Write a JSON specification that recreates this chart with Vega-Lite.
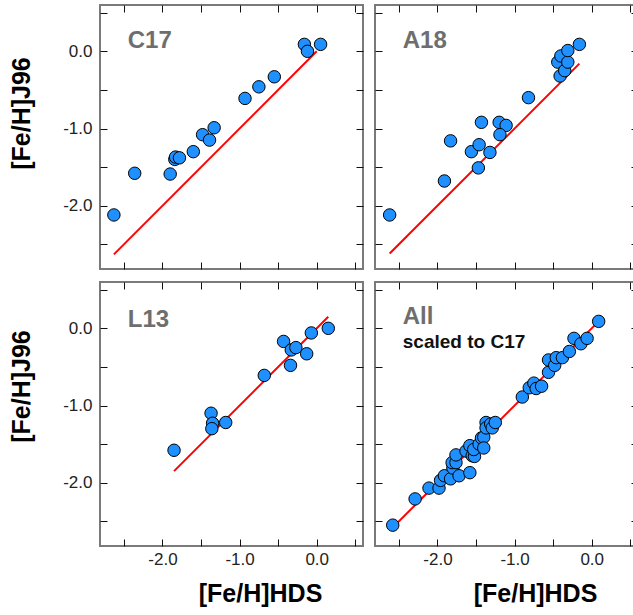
{
  "$schema": "https://vega.github.io/schema/vega-lite/v6.json",
  "background": "white",
  "padding": {"left": 8, "top": 2, "right": 0, "bottom": 0},
  "config": {
    "font": "Liberation Sans",
    "view": {"stroke": "#7a7a7a", "strokeWidth": 2},
    "axis": {"domain": false, "grid": false, "tickColor": "#111111", "tickWidth": 1, "tickSize": -7, "labelFontSize": 17, "labelColor": "#222222", "labelFlush": false, "labelOverlap": false, "titleFontSize": 25, "titleFontWeight": "bold", "titleColor": "#000000"}
  },
  "datasets": {
    "pts": [
      {"panel": "C17", "x": -2.63, "y": -2.12}, {"panel": "C17", "x": -2.36, "y": -1.58}, {"panel": "C17", "x": -1.90, "y": -1.59},
      {"panel": "C17", "x": -1.84, "y": -1.40}, {"panel": "C17", "x": -1.83, "y": -1.37}, {"panel": "C17", "x": -1.78, "y": -1.38},
      {"panel": "C17", "x": -1.60, "y": -1.30}, {"panel": "C17", "x": -1.48, "y": -1.08}, {"panel": "C17", "x": -1.39, "y": -1.15},
      {"panel": "C17", "x": -1.33, "y": -0.99}, {"panel": "C17", "x": -0.93, "y": -0.61}, {"panel": "C17", "x": -0.75, "y": -0.46},
      {"panel": "C17", "x": -0.55, "y": -0.33}, {"panel": "C17", "x": -0.16, "y": 0.09}, {"panel": "C17", "x": -0.12, "y": 0.0},
      {"panel": "C17", "x": 0.05, "y": 0.09},
      {"panel": "A18", "x": -2.62, "y": -2.12}, {"panel": "A18", "x": -1.91, "y": -1.68}, {"panel": "A18", "x": -1.83, "y": -1.16},
      {"panel": "A18", "x": -1.56, "y": -1.30}, {"panel": "A18", "x": -1.46, "y": -1.21}, {"panel": "A18", "x": -1.47, "y": -1.51},
      {"panel": "A18", "x": -1.43, "y": -0.92}, {"panel": "A18", "x": -1.32, "y": -1.31}, {"panel": "A18", "x": -1.20, "y": -0.92},
      {"panel": "A18", "x": -1.11, "y": -0.96}, {"panel": "A18", "x": -1.19, "y": -1.08}, {"panel": "A18", "x": -0.82, "y": -0.60},
      {"panel": "A18", "x": -0.41, "y": -0.32}, {"panel": "A18", "x": -0.44, "y": -0.14}, {"panel": "A18", "x": -0.40, "y": -0.06},
      {"panel": "A18", "x": -0.35, "y": -0.25}, {"panel": "A18", "x": -0.31, "y": -0.14}, {"panel": "A18", "x": -0.31, "y": 0.01},
      {"panel": "A18", "x": -0.16, "y": 0.09},
      {"panel": "L13", "x": -1.85, "y": -1.58}, {"panel": "L13", "x": -1.37, "y": -1.10}, {"panel": "L13", "x": -1.35, "y": -1.23},
      {"panel": "L13", "x": -1.36, "y": -1.30}, {"panel": "L13", "x": -1.18, "y": -1.22}, {"panel": "L13", "x": -0.68, "y": -0.61},
      {"panel": "L13", "x": -0.43, "y": -0.17}, {"panel": "L13", "x": -0.33, "y": -0.28}, {"panel": "L13", "x": -0.27, "y": -0.25},
      {"panel": "L13", "x": -0.34, "y": -0.48}, {"panel": "L13", "x": -0.13, "y": -0.33}, {"panel": "L13", "x": -0.07, "y": -0.06},
      {"panel": "L13", "x": 0.15, "y": 0.0},
      {"panel": "All", "x": -2.58, "y": -2.55}, {"panel": "All", "x": -2.29, "y": -2.21}, {"panel": "All", "x": -2.11, "y": -2.07},
      {"panel": "All", "x": -1.98, "y": -2.07}, {"panel": "All", "x": -1.96, "y": -1.97}, {"panel": "All", "x": -1.91, "y": -1.91},
      {"panel": "All", "x": -1.83, "y": -1.95}, {"panel": "All", "x": -1.80, "y": -1.81}, {"panel": "All", "x": -1.81, "y": -1.74},
      {"panel": "All", "x": -1.76, "y": -1.74}, {"panel": "All", "x": -1.76, "y": -1.64}, {"panel": "All", "x": -1.72, "y": -1.91},
      {"panel": "All", "x": -1.63, "y": -1.59}, {"panel": "All", "x": -1.58, "y": -1.52}, {"panel": "All", "x": -1.55, "y": -1.65},
      {"panel": "All", "x": -1.52, "y": -1.66}, {"panel": "All", "x": -1.58, "y": -1.87}, {"panel": "All", "x": -1.53, "y": -1.57},
      {"panel": "All", "x": -1.46, "y": -1.50}, {"panel": "All", "x": -1.43, "y": -1.42}, {"panel": "All", "x": -1.40, "y": -1.41},
      {"panel": "All", "x": -1.40, "y": -1.55}, {"panel": "All", "x": -1.37, "y": -1.22}, {"panel": "All", "x": -1.37, "y": -1.29},
      {"panel": "All", "x": -1.31, "y": -1.24}, {"panel": "All", "x": -1.29, "y": -1.29}, {"panel": "All", "x": -1.25, "y": -1.22},
      {"panel": "All", "x": -0.90, "y": -0.89}, {"panel": "All", "x": -0.81, "y": -0.77}, {"panel": "All", "x": -0.75, "y": -0.71},
      {"panel": "All", "x": -0.72, "y": -0.78}, {"panel": "All", "x": -0.65, "y": -0.75}, {"panel": "All", "x": -0.56, "y": -0.57},
      {"panel": "All", "x": -0.56, "y": -0.41}, {"panel": "All", "x": -0.48, "y": -0.48}, {"panel": "All", "x": -0.46, "y": -0.38},
      {"panel": "All", "x": -0.38, "y": -0.38}, {"panel": "All", "x": -0.29, "y": -0.30}, {"panel": "All", "x": -0.23, "y": -0.13},
      {"panel": "All", "x": -0.14, "y": -0.20}, {"panel": "All", "x": -0.06, "y": -0.13}, {"panel": "All", "x": 0.09, "y": 0.09}
    ],
    "lines": [
      {"panel": "C17", "x": -2.63, "y": -2.63}, {"panel": "C17", "x": 0.0, "y": 0.0},
      {"panel": "A18", "x": -2.62, "y": -2.62}, {"panel": "A18", "x": -0.16, "y": -0.16},
      {"panel": "L13", "x": -1.85, "y": -1.85}, {"panel": "L13", "x": 0.15, "y": 0.15},
      {"panel": "All", "x": -2.58, "y": -2.58}, {"panel": "All", "x": 0.09, "y": 0.09}
    ]
  },
  "spacing": 8,
  "vconcat": [
    {
      "spacing": 8,
      "hconcat": [
        {
          "width": 263, "height": 264,
          "resolve": {"axis": {"x": "independent", "y": "independent"}},
          "layer": [
            {"data": {"name": "lines"}, "transform": [{"filter": "datum.panel === 'C17'"}],
             "mark": {"type": "line", "color": "#ff0000", "strokeWidth": 2},
             "encoding": {
               "x": {"field": "x", "type": "quantitative", "scale": {"domain": [-2.81, 0.6], "nice": false, "zero": false}, "axis": {"orient": "top", "labels": false, "title": null, "values": [-2.5, -2, -1.5, -1, -0.5, 0, 0.5]}},
               "y": {"field": "y", "type": "quantitative", "scale": {"domain": [-2.82, 0.6], "nice": false, "zero": false}, "axis": {"orient": "right", "labels": false, "title": null, "values": [-2.5, -2, -1.5, -1, -0.5, 0, 0.5]}}
             }},
            {"data": {"name": "pts"}, "transform": [{"filter": "datum.panel === 'C17'"}],
             "mark": {"type": "point", "shape": "circle", "filled": true, "fill": "#1e90ff", "stroke": "#000000", "strokeWidth": 1, "size": 155, "opacity": 1},
             "encoding": {
               "x": {"field": "x", "type": "quantitative", "axis": {"orient": "bottom", "labels": false, "title": null, "values": [-2.5, -2, -1.5, -1, -0.5, 0, 0.5]}},
               "y": {"field": "y", "type": "quantitative", "axis": {"orient": "left", "title": "[Fe/H]J96", "titleY": 108, "titlePadding": 28, "labelPadding": 15, "values": [-2.5, -2, -1.5, -1, -0.5, 0, 0.5], "labelExpr": "datum.value % 1 == 0 ? (datum.value < 0 ? '-' : '') + format(abs(datum.value), '.1f') : ''"}}
             }},
            {"data": {"values": [{}]},
             "mark": {"type": "text", "text": "C17", "font": "Liberation Sans", "fontSize": 24, "fontWeight": "bold", "color": "#6e6e6e", "align": "left", "baseline": "alphabetic"},
             "encoding": {"x": {"datum": -2.45, "type": "quantitative", "axis": null}, "y": {"datum": 0.04, "type": "quantitative", "axis": null}}}
          ]
        },
        {
          "width": 263, "height": 264,
          "resolve": {"axis": {"x": "independent", "y": "independent"}},
          "layer": [
            {"data": {"name": "lines"}, "transform": [{"filter": "datum.panel === 'A18'"}],
             "mark": {"type": "line", "color": "#ff0000", "strokeWidth": 2},
             "encoding": {
               "x": {"field": "x", "type": "quantitative", "scale": {"domain": [-2.81, 0.6], "nice": false, "zero": false}, "axis": {"orient": "top", "labels": false, "title": null, "values": [-2.5, -2, -1.5, -1, -0.5, 0, 0.5]}},
               "y": {"field": "y", "type": "quantitative", "scale": {"domain": [-2.82, 0.6], "nice": false, "zero": false}, "axis": {"orient": "right", "labels": false, "title": null, "values": [-2.5, -2, -1.5, -1, -0.5, 0, 0.5]}}
             }},
            {"data": {"name": "pts"}, "transform": [{"filter": "datum.panel === 'A18'"}],
             "mark": {"type": "point", "shape": "circle", "filled": true, "fill": "#1e90ff", "stroke": "#000000", "strokeWidth": 1, "size": 155, "opacity": 1},
             "encoding": {
               "x": {"field": "x", "type": "quantitative", "axis": {"orient": "bottom", "labels": false, "title": null, "values": [-2.5, -2, -1.5, -1, -0.5, 0, 0.5]}},
               "y": {"field": "y", "type": "quantitative", "axis": {"orient": "left", "labels": false, "title": null, "values": [-2.5, -2, -1.5, -1, -0.5, 0, 0.5]}}
             }},
            {"data": {"values": [{}]},
             "mark": {"type": "text", "text": "A18", "font": "Liberation Sans", "fontSize": 24, "fontWeight": "bold", "color": "#6e6e6e", "align": "left", "baseline": "alphabetic"},
             "encoding": {"x": {"datum": -2.45, "type": "quantitative", "axis": null}, "y": {"datum": 0.04, "type": "quantitative", "axis": null}}}
          ]
        }
      ]
    },
    {
      "spacing": 8,
      "hconcat": [
        {
          "width": 263, "height": 264,
          "resolve": {"axis": {"x": "independent", "y": "independent"}},
          "layer": [
            {"data": {"name": "lines"}, "transform": [{"filter": "datum.panel === 'L13'"}],
             "mark": {"type": "line", "color": "#ff0000", "strokeWidth": 2},
             "encoding": {
               "x": {"field": "x", "type": "quantitative", "scale": {"domain": [-2.81, 0.6], "nice": false, "zero": false}, "axis": {"orient": "top", "labels": false, "title": null, "values": [-2.5, -2, -1.5, -1, -0.5, 0, 0.5]}},
               "y": {"field": "y", "type": "quantitative", "scale": {"domain": [-2.82, 0.6], "nice": false, "zero": false}, "axis": {"orient": "right", "labels": false, "title": null, "values": [-2.5, -2, -1.5, -1, -0.5, 0, 0.5]}}
             }},
            {"data": {"name": "pts"}, "transform": [{"filter": "datum.panel === 'L13'"}],
             "mark": {"type": "point", "shape": "circle", "filled": true, "fill": "#1e90ff", "stroke": "#000000", "strokeWidth": 1, "size": 155, "opacity": 1},
             "encoding": {
               "x": {"field": "x", "type": "quantitative", "axis": {"orient": "bottom", "title": "[Fe/H]HDS", "titleX": 160, "titlePadding": 14, "labelPadding": 12, "values": [-2.5, -2, -1.5, -1, -0.5, 0, 0.5], "labelExpr": "datum.value % 1 == 0 ? (datum.value < 0 ? '-' : '') + format(abs(datum.value), '.1f') : ''"}},
               "y": {"field": "y", "type": "quantitative", "axis": {"orient": "left", "title": "[Fe/H]J96", "titleY": 104, "titlePadding": 28, "labelPadding": 15, "values": [-2.5, -2, -1.5, -1, -0.5, 0, 0.5], "labelExpr": "datum.value % 1 == 0 ? (datum.value < 0 ? '-' : '') + format(abs(datum.value), '.1f') : ''"}}
             }},
            {"data": {"values": [{}]},
             "mark": {"type": "text", "text": "L13", "font": "Liberation Sans", "fontSize": 24, "fontWeight": "bold", "color": "#6e6e6e", "align": "left", "baseline": "alphabetic"},
             "encoding": {"x": {"datum": -2.45, "type": "quantitative", "axis": null}, "y": {"datum": 0.02, "type": "quantitative", "axis": null}}}
          ]
        },
        {
          "width": 263, "height": 264,
          "resolve": {"axis": {"x": "independent", "y": "independent"}},
          "layer": [
            {"data": {"name": "lines"}, "transform": [{"filter": "datum.panel === 'All'"}],
             "mark": {"type": "line", "color": "#ff0000", "strokeWidth": 2},
             "encoding": {
               "x": {"field": "x", "type": "quantitative", "scale": {"domain": [-2.81, 0.6], "nice": false, "zero": false}, "axis": {"orient": "top", "labels": false, "title": null, "values": [-2.5, -2, -1.5, -1, -0.5, 0, 0.5]}},
               "y": {"field": "y", "type": "quantitative", "scale": {"domain": [-2.82, 0.6], "nice": false, "zero": false}, "axis": {"orient": "right", "labels": false, "title": null, "values": [-2.5, -2, -1.5, -1, -0.5, 0, 0.5]}}
             }},
            {"data": {"name": "pts"}, "transform": [{"filter": "datum.panel === 'All'"}],
             "mark": {"type": "point", "shape": "circle", "filled": true, "fill": "#1e90ff", "stroke": "#000000", "strokeWidth": 1, "size": 155, "opacity": 1},
             "encoding": {
               "x": {"field": "x", "type": "quantitative", "axis": {"orient": "bottom", "title": "[Fe/H]HDS", "titleX": 160, "titlePadding": 14, "labelPadding": 12, "values": [-2.5, -2, -1.5, -1, -0.5, 0, 0.5], "labelExpr": "datum.value % 1 == 0 ? (datum.value < 0 ? '-' : '') + format(abs(datum.value), '.1f') : ''"}},
               "y": {"field": "y", "type": "quantitative", "axis": {"orient": "left", "labels": false, "title": null, "values": [-2.5, -2, -1.5, -1, -0.5, 0, 0.5]}}
             }},
            {"data": {"values": [{}]},
             "mark": {"type": "text", "text": "All", "font": "Liberation Sans", "fontSize": 24, "fontWeight": "bold", "color": "#6e6e6e", "align": "left", "baseline": "alphabetic"},
             "encoding": {"x": {"datum": -2.45, "type": "quantitative", "axis": null}, "y": {"datum": 0.05, "type": "quantitative", "axis": null}}},
            {"data": {"values": [{}]},
             "mark": {"type": "text", "text": "scaled to C17", "font": "Liberation Sans", "fontSize": 19, "fontWeight": "bold", "color": "#111111", "align": "left", "baseline": "alphabetic"},
             "encoding": {"x": {"datum": -2.45, "type": "quantitative", "axis": null}, "y": {"datum": -0.26, "type": "quantitative", "axis": null}}}
          ]
        }
      ]
    }
  ]
}
